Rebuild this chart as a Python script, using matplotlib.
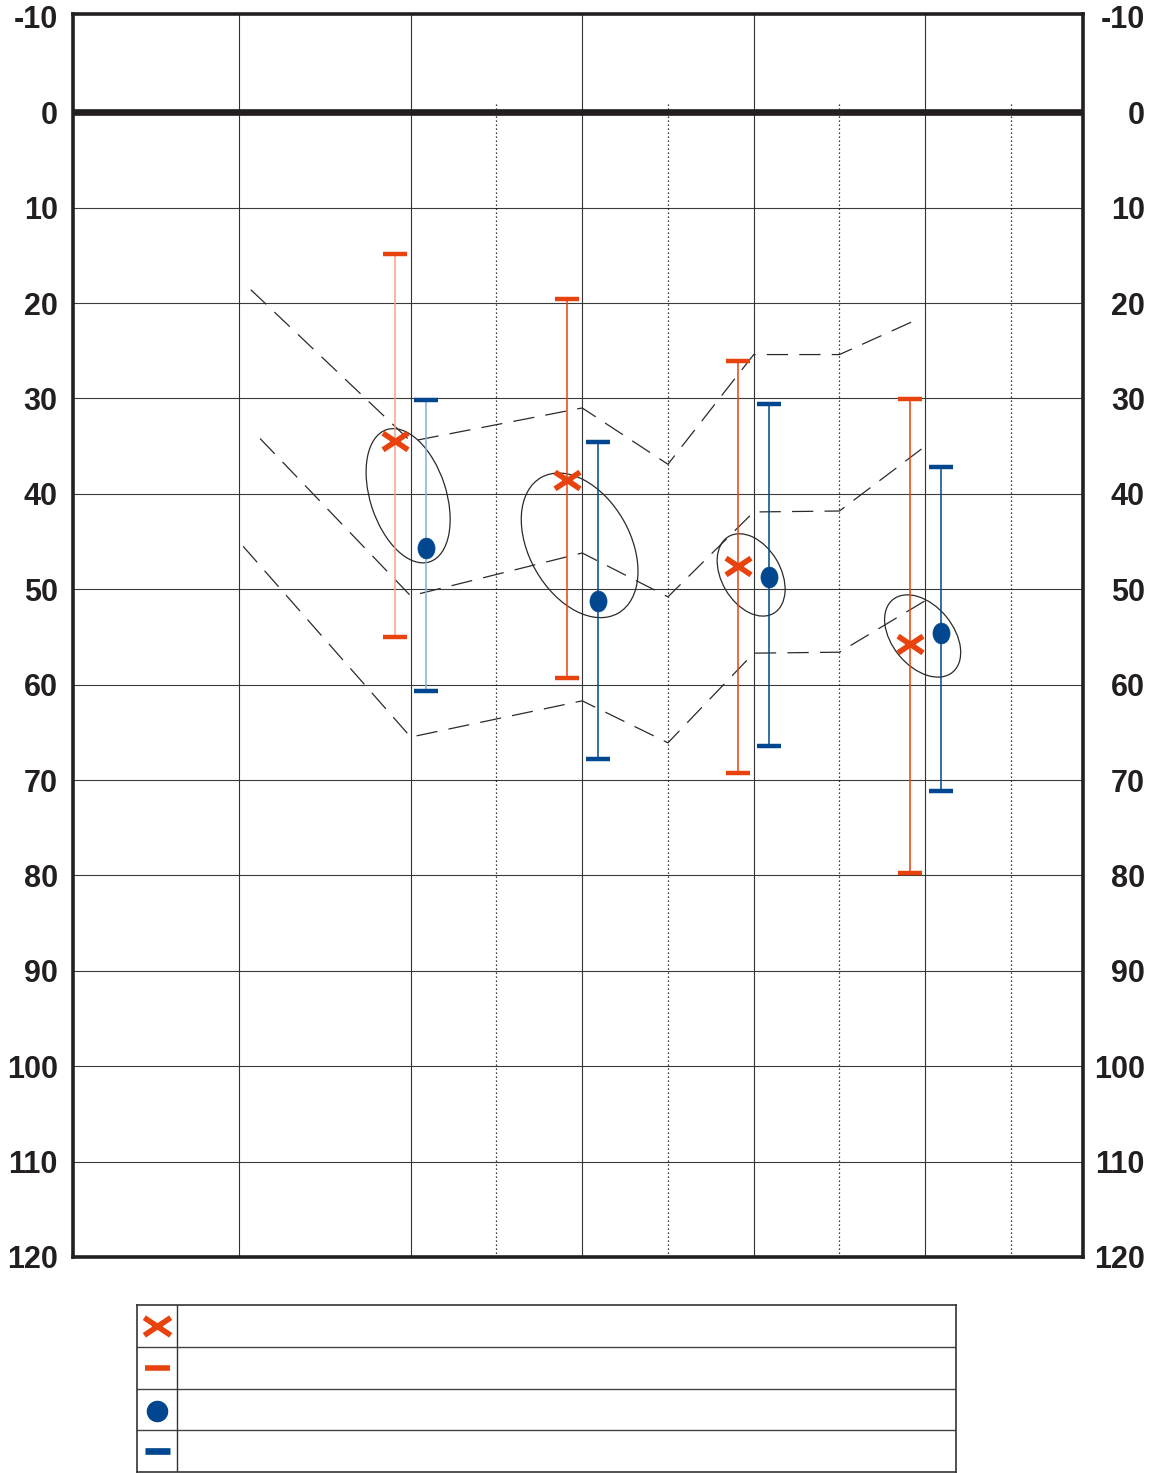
import numpy as np
import matplotlib
matplotlib.use('Agg')
import matplotlib.pyplot as plt
import matplotlib.transforms as mtransforms
from matplotlib.patches import Ellipse
from matplotlib.path import Path

plt.rcParams['font.family'] = ['Liberation Sans', 'DejaVu Sans']

# --- data (freq in Hz, level in dB) ---
freqs = [500, 1000, 2000, 4000]

red_db = [34.5, 38.5, 47.6, 55.7]
red_top = [14.9, 19.6, 26.1, 30.1]
red_bot = [55.0, 59.3, 69.3, 79.7]

blue_db = [45.7, 51.2, 48.7, 54.6]
blue_top = [30.2, 34.6, 30.6, 37.2]
blue_bot = [60.7, 67.8, 66.4, 71.2]

# ellipse centre level, size in pixels, tilt in degrees
ell_db = [40.2, 45.4, 48.5, 54.9]
ell_minor = [76, 101, 59, 61]
ell_major = [139, 156, 89, 94]
ell_angle = [18, 29.5, 30.4, 39.5]

upper_f = [262, 500, 1000, 1500, 2000, 3000, 3900]
upper_db = [18.6, 34.5, 31.0, 36.9, 25.4, 25.4, 21.7]
mid_f = [272, 500, 1000, 1500, 2000, 3000, 3950]
mid_db = [34.2, 50.7, 46.2, 50.8, 41.9, 41.8, 35.3]
low_f = [254, 500, 1000, 1500, 2000, 3000, 4000]
low_db = [45.5, 65.5, 61.7, 66.1, 56.7, 56.6, 51.2]

yticks = list(range(-10, 121, 10))

# audiogram columns: half octave steps drawn at the midpoints
std_f = [125, 250, 500, 750, 1000, 1500, 2000, 3000, 4000, 6000, 8000]
std_pos = [0, 1, 2, 2.5, 3, 3.5, 4, 4.5, 5, 5.5, 6]


def xpos(f):
    return np.interp(np.log2(f), np.log2(std_f), std_pos)


RED = '#e8430e'
RED_LIGHT = '#f7a07e'
BLUE = '#00478f'
BLUE_LIGHT = '#86aed6'
DARK = '#231f20'

fig = plt.figure(figsize=(11.65, 14.73), dpi=100)
ax = fig.add_axes([73 / 1165, 216 / 1473, 1010 / 1165, 1243 / 1473])
ax.set_xlim(0.031, 5.92)
ax.set_ylim(120, -10.3)

# grid
for v in range(10, 111, 10):
    ax.axhline(v, color='#3a3a3a', lw=0.8, zorder=1)
ax.axhline(0, color=DARK, lw=4.8, zorder=2)
for f in [250, 500, 1000, 2000, 4000]:
    ax.axvline(xpos(f), color='#333333', lw=0.8, zorder=1)
for f in [750, 1500, 3000, 6000]:
    ax.vlines(xpos(f), -0.9, 120, color='black', lw=0.9, linestyles=(0, (1, 2.2)), zorder=1)

# dashed bands
for fx, dbs in [(upper_f, upper_db), (mid_f, mid_db), (low_f, low_db)]:
    ax.plot(xpos(fx), dbs, color='#2a2a2a', lw=0.9, linestyle=(0, (17, 9)), zorder=3)

# ellipses
for f, c, w, h, a in zip(freqs, ell_db, ell_minor, ell_major, ell_angle):
    tr = fig.dpi_scale_trans + mtransforms.ScaledTranslation(xpos(f) - 0.015, c, ax.transData)
    ax.add_patch(Ellipse((0, 0), w / 100, h / 100, angle=a, transform=tr,
                         fill=False, ec='#2a2a2a', lw=0.9, zorder=4))

x_red = xpos(freqs) - 0.09
x_blue = xpos(freqs) + 0.09

x_marker = Path([(-1.5, -1), (1.5, 1), (-1.5, 1), (1.5, -1)],
                [Path.MOVETO, Path.LINETO, Path.MOVETO, Path.LINETO])
circ = Path.unit_circle()
dot_marker = Path(circ.vertices * [0.82, 1.0], circ.codes)

for xs, y, top, bot, col, light in [(x_red, red_db, red_top, red_bot, RED, RED_LIGHT),
                                    (x_blue, blue_db, blue_top, blue_bot, BLUE, BLUE_LIGHT)]:
    y = np.array(y)
    err = [y - np.array(top), np.array(bot) - y]
    eb = ax.errorbar(xs, y, yerr=err, fmt='none', ecolor=col, elinewidth=1.1,
                     capsize=8.6, capthick=3.2, zorder=5)
    eb[2][0].set_color([light, col, col, col])

ax.plot(x_red, red_db, linestyle='none', marker=x_marker, ms=18, mew=4.0,
        mec=RED, zorder=6)
ax.plot(x_blue, blue_db, linestyle='none', marker=dot_marker, ms=15, mfc=BLUE,
        mec=BLUE, mew=0.5, zorder=6)

# frame and labels
for s in ax.spines.values():
    s.set_linewidth(2.6)
    s.set_color(DARK)
    s.set_zorder(7)
ax.set_xticks([])
ax.set_yticks(yticks)
ax.set_yticklabels([str(t) for t in yticks])
ax.tick_params(axis='y', length=0, pad=11, labelsize=22, labelcolor=DARK)
plt.setp(ax.get_yticklabels(), fontweight='bold')

ax2 = ax.twinx()
ax2.set_ylim(ax.get_ylim())
ax2.set_yticks(yticks)
ax2.set_yticklabels([str(t) for t in yticks])
ax2.tick_params(axis='y', length=0, pad=44.6, labelsize=22, labelcolor=DARK)
for lab in ax2.get_yticklabels():
    lab.set_horizontalalignment('right')
    lab.set_fontweight('bold')
for s in ax2.spines.values():
    s.set_visible(False)

# legend table
lg = fig.add_axes([137 / 1165, 1 / 1473, 819 / 1165, 167 / 1473])
lg.set_xlim(0, 1)
lg.set_ylim(4, 0)
lg.set_xticks([])
lg.set_yticks([])
for s in lg.spines.values():
    s.set_linewidth(1.2)
    s.set_color('#333333')
for r in [1, 2, 3]:
    lg.axhline(r, color='#444444', lw=1.0)
lg.axvline(40 / 819, color='#333333', lw=1.0)
cx = 20 / 819
lg.plot(cx, 0.5, marker=x_marker, ms=19, mew=4.0, mec=RED)
lg.plot(cx, 1.5, marker='_', ms=18, mew=4, mec=RED)
lg.plot(cx, 2.55, marker='o', ms=14.5, mfc=BLUE, mec=BLUE)
lg.plot(cx, 3.5, marker='_', ms=18, mew=4.8, mec=BLUE)

fig.savefig('out.png', dpi=100)
